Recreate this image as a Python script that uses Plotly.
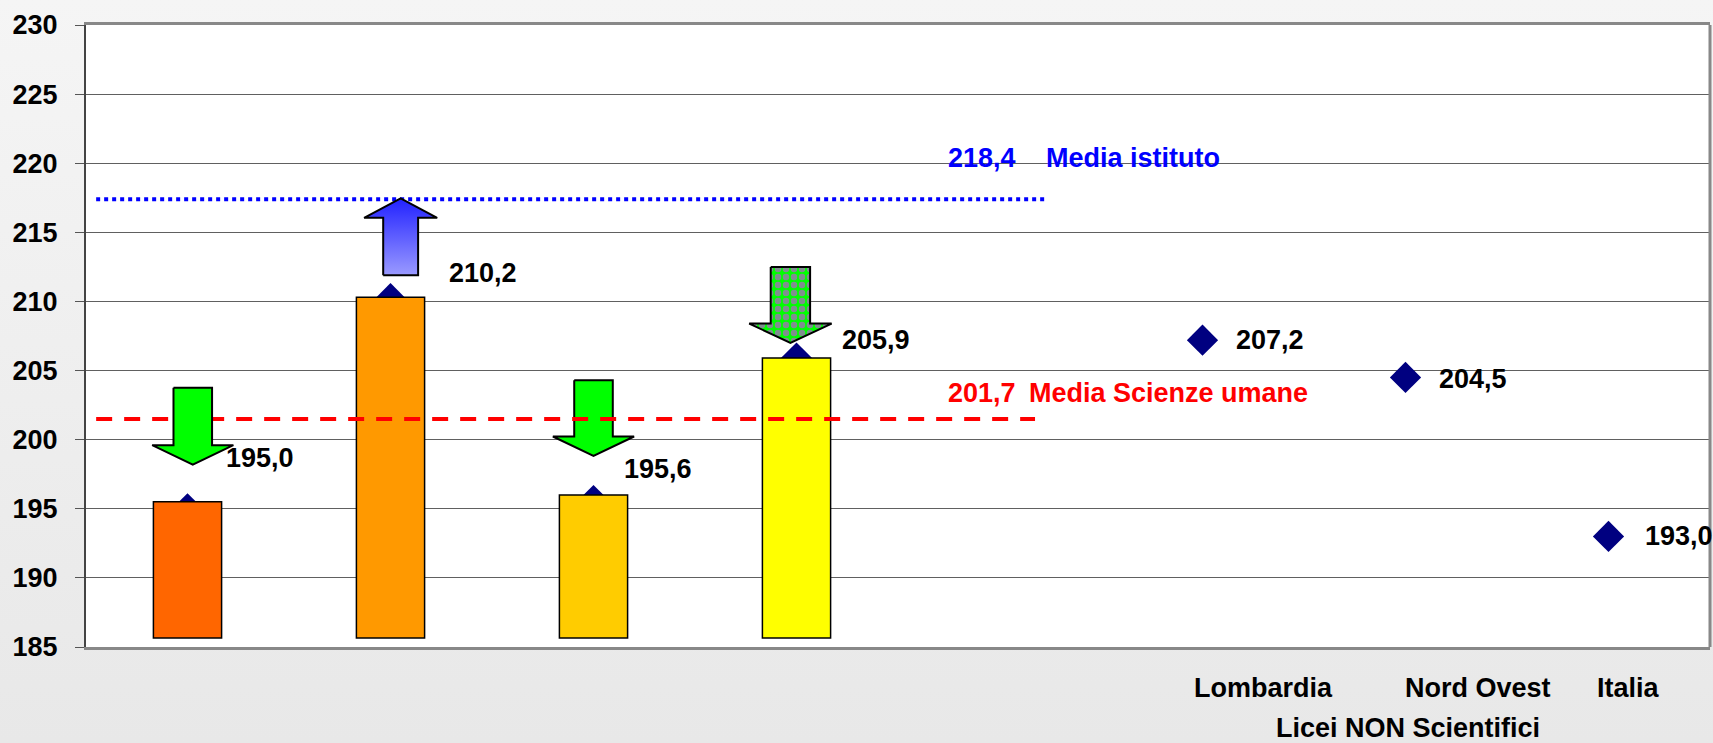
import base64
import plotly.graph_objects as go

# ---------------- data ----------------
categorie = ["", "", "", "", "", "Lombardia", "Nord Ovest", "Italia"]
punteggi = [195.0, 210.2, 195.6, 205.9, None, 207.2, 204.5, 193.0]
barre_valori = [195.5, 210.3, 196.0, 205.9]
barre_colori = ["#FF6600", "#FF9900", "#FFCC00", "#FFFF00"]
barre_base = 185.65
frecce_da = [203.75, 211.9, 204.3, 212.5]
frecce_a = [198.2, 217.45, 198.83, 207.0]
media_istituto = 218.4
media_istituto_linea = 217.4
media_scienze = 201.7
media_scienze_linea = 201.5
titolo_asse = "Licei NON Scientifici"
y_ticks = [185, 190, 195, 200, 205, 210, 215, 220, 225, 230]

# ---------------- style / layout constants ----------------
W, H = 1713, 743
ML, MR, MT, MB = 86, 3, 25, 96
FONT = "Liberation Sans, Arial, sans-serif"
FS = 27
freccia_dx = [0.026, 0.05, 0.0, -0.03]
freccia_fusto = [0.095, 0.086, 0.095, 0.097]
freccia_testa = [0.2, 0.18, 0.2, 0.203]
TESTA_LEN = 1.4
etichetta_dx = [0.18, 0.277, 0.139, 0.214, 0, 0.157, 0.157, 0.168]
etichetta_dy = [3.64, 1.83, 2.31, 1.3, 0, 0, -0.08, 0]
cat_lab_x = {"Lombardia": 5.30, "Nord Ovest": 6.355, "Italia": 7.10}


def fmt(v):
    return f"{v:.1f}".replace(".", ",")


fig = go.Figure()

# diamonds (behind the bars: main subplot)
fig.add_trace(go.Scatter(
    x=list(range(len(categorie))), y=punteggi, mode="markers",
    marker=dict(symbol="diamond", size=24, color="#000080", line=dict(width=0)),
    xaxis="x", yaxis="y", hoverinfo="skip"))

# bars (overlay subplot, drawn above diamonds)
fig.add_trace(go.Bar(
    x=list(range(len(barre_valori))),
    y=[v - barre_base for v in barre_valori], base=barre_base,
    width=0.336, marker=dict(color=barre_colori, line=dict(color="#000000", width=1.5)),
    xaxis="x2", yaxis="y2", hoverinfo="skip"))


def freccia(i):
    xc = i + freccia_dx[i]
    y0, y1 = frecce_da[i], frecce_a[i]
    d = 1 if y1 > y0 else -1
    yb = y1 - d * TESTA_LEN
    sw, hw = freccia_fusto[i], freccia_testa[i]
    xs = [xc - sw, xc + sw, xc + sw, xc + hw, xc, xc - hw, xc - sw, xc - sw]
    ys = [y0, y0, yb, yb, y1, yb, yb, y0]
    return xs, ys


def add_freccia(i, **kw):
    xs, ys = freccia(i)
    fig.add_trace(go.Scatter(x=xs, y=ys, mode="lines", fill="toself",
                             line=dict(color="#000000", width=2),
                             xaxis="x2", yaxis="y2", hoverinfo="skip", **kw))


add_freccia(2, fillcolor="#00FF00")

# mean lines
fig.add_trace(go.Scatter(x=[-0.45, 4.175], y=[media_scienze_linea] * 2, mode="lines",
                         line=dict(color="#FF0000", width=4, dash="16px,12px"),
                         xaxis="x2", yaxis="y2", hoverinfo="skip"))
fig.add_trace(go.Scatter(x=[-0.45, 4.235], y=[media_istituto_linea] * 2, mode="lines",
                         line=dict(color="#0000FF", width=4, dash="4px,4px"),
                         xaxis="x2", yaxis="y2", hoverinfo="skip"))

add_freccia(0, fillcolor="#00FF00")
add_freccia(1, fillcolor="#6060FF",
            fillgradient=dict(type="vertical",
                              colorscale=[[0, "#9A9AFF"], [1, "#2222FF"]]))
add_freccia(3, fillcolor="#00FF00",
            fillpattern=dict(shape=".", bgcolor="#00FF00", fgcolor="#7F8F8F",
                             size=8, solidity=0.5, fillmode="replace"))

# annotations: value labels
ann = []
for i, v in enumerate(punteggi):
    if v is None:
        continue
    ann.append(dict(x=i + etichetta_dx[i], y=v + etichetta_dy[i], xref="x", yref="y",
                    text=fmt(v), showarrow=False, xanchor="left", yanchor="middle",
                    font=dict(family=FONT, size=FS, color="#000000", weight="bold")))

# mean labels
ann.append(dict(x=3.735, y=media_istituto + 2.0, xref="x", yref="y", text=fmt(media_istituto),
                showarrow=False, xanchor="left", yanchor="middle",
                font=dict(family=FONT, size=FS, color="#0000FF", weight="bold")))
ann.append(dict(x=4.219, y=media_istituto + 2.0, xref="x", yref="y", text="Media istituto",
                showarrow=False, xanchor="left", yanchor="middle",
                font=dict(family=FONT, size=FS, color="#0000FF", weight="bold")))
ann.append(dict(x=3.735, y=media_scienze + 1.7, xref="x", yref="y", text=fmt(media_scienze),
                showarrow=False, xanchor="left", yanchor="middle",
                font=dict(family=FONT, size=FS, color="#FF0000", weight="bold")))
ann.append(dict(x=4.134, y=media_scienze + 1.7, xref="x", yref="y", text="Media Scienze umane",
                showarrow=False, xanchor="left", yanchor="middle",
                font=dict(family=FONT, size=FS, color="#FF0000", weight="bold")))

# category labels
for c in categorie:
    if c:
        ann.append(dict(x=cat_lab_x[c], y=-0.0664, xref="x", yref="paper", text=c,
                        showarrow=False, xanchor="center", yanchor="middle",
                        font=dict(family=FONT, size=FS, color="#000000", weight="bold")))
ann.append(dict(x=6.01, y=-0.131, xref="x", yref="paper", text=titolo_asse,
                showarrow=False, xanchor="center", yanchor="middle",
                font=dict(family=FONT, size=FS, color="#000000", weight="bold")))

# background gradient
pw, ph = W - ML - MR, H - MT - MB
svg = (f'<svg xmlns="http://www.w3.org/2000/svg" width="{W}" height="{H}" '
       f'viewBox="0 0 {W} {H}" preserveAspectRatio="none">'
       '<defs><linearGradient id="g" x1="0" y1="0" x2="0" y2="1">'
       '<stop offset="0" stop-color="#f5f5f5"/><stop offset="1" stop-color="#e8e8e8"/>'
       '</linearGradient></defs>'
       f'<rect width="{W}" height="{H}" fill="url(#g)"/>'
       f'<rect x="{ML}" y="{MT}" width="{pw}" height="{ph}" fill="#ffffff"/></svg>')
src = "data:image/svg+xml;base64," + base64.b64encode(svg.encode()).decode()

fig.update_layout(
    width=W, height=H,
    margin=dict(l=ML, r=MR, t=MT, b=MB, pad=0),
    paper_bgcolor="#eeeeee", plot_bgcolor="#ffffff",
    showlegend=False, hovermode=False,
    annotations=ann,
    images=[dict(source=src, xref="paper", yref="paper",
                 x=-ML / pw, y=1 + MT / ph, sizex=W / pw, sizey=H / ph,
                 xanchor="left", yanchor="top", sizing="stretch", layer="below")],
    shapes=[dict(type="line", xref="paper", yref="paper", x0=1, x1=1, y0=0, y1=1,
                 line=dict(color="#888888", width=3))],
    xaxis=dict(range=[-0.5, 7.5], showgrid=False, zeroline=False, showticklabels=False,
               ticks="", showline=True, linecolor="#888888", linewidth=3, mirror=True,
               fixedrange=True),
    yaxis=dict(range=[185, 230], tickvals=y_ticks, ticktext=[str(t) for t in y_ticks],
               showgrid=True, gridcolor="#606060", gridwidth=1, zeroline=False,
               ticks="outside", ticklen=9, tickcolor="#555555", tickwidth=1,
               showline=True, linecolor="#444444", linewidth=2,
               ticklabelstandoff=12,
               tickfont=dict(family=FONT, size=FS, color="#000000", weight="bold"),
               fixedrange=True),
    xaxis2=dict(overlaying="x", matches="x", visible=False, range=[-0.5, 7.5]),
    yaxis2=dict(overlaying="y", matches="y", visible=False, range=[185, 230]),
)

fig.write_html("out.html", config={"displayModeBar": False},
               post_script="document.body.style.margin='0';document.body.style.overflow='hidden';")
